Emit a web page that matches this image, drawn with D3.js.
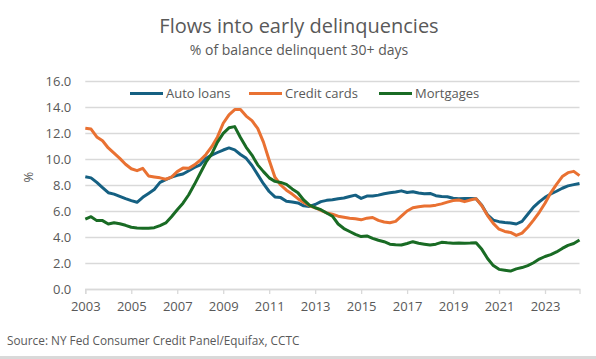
<!DOCTYPE html>
<html>
<head>
<meta charset="utf-8">
<script src="https://cdn.jsdelivr.net/npm/d3@7"></script>
<style>
  body { margin: 0; background: #fff; }
  svg { display: block; font-family: "Open Sans", sans-serif; }
</style>
</head>
<body>
<div id="chart"></div>
<script>
// quarterly, 2003Q1 .. 2024Q3
const autoLoans = [
  8.64, 8.55, 8.2, 7.8, 7.41, 7.3, 7.12, 6.95, 6.8, 6.67, 7.05, 7.35,
  7.65, 8.2, 8.42, 8.6, 8.75, 8.85, 9.1, 9.35, 9.55, 10.05, 10.3, 10.5,
  10.69, 10.85, 10.7, 10.35, 10.05, 9.5, 8.8, 8.1, 7.5, 7.08, 7.03, 6.75,
  6.7, 6.62, 6.4, 6.35, 6.5, 6.72, 6.82, 6.87, 6.95, 7.0, 7.12, 7.22,
  6.97, 7.15, 7.15, 7.22, 7.33, 7.4, 7.46, 7.55, 7.42, 7.48, 7.38, 7.32,
  7.35, 7.18, 7.12, 7.1, 6.98, 6.95, 6.97, 6.97, 6.95, 6.45, 5.7, 5.3,
  5.18, 5.12, 5.08, 5.0, 5.2, 5.75, 6.3, 6.7, 7.05, 7.31, 7.52, 7.75,
  7.93, 8.03, 8.12
];
const creditCards = [
  12.36, 12.3, 11.7, 11.4, 10.85, 10.45, 10.05, 9.6, 9.25, 9.1, 9.28, 8.7,
  8.62, 8.55, 8.44, 8.6, 9.03, 9.3, 9.28, 9.55, 9.9, 10.35, 10.95, 11.7,
  12.75, 13.4, 13.8, 13.8, 13.3, 12.95, 12.35, 11.3, 9.9, 8.6, 8.0, 7.6,
  7.3, 6.95, 6.65, 6.4, 6.25, 6.05, 5.85, 5.75, 5.6, 5.52, 5.45, 5.4,
  5.32, 5.45, 5.5, 5.28, 5.15, 5.1, 5.2, 5.6, 6.0, 6.25, 6.33, 6.38,
  6.38, 6.45, 6.55, 6.68, 6.8, 6.85, 6.72, 6.85, 6.95, 6.4, 5.65, 5.05,
  4.6, 4.43, 4.35, 4.12, 4.3, 4.75, 5.3, 5.9, 6.6, 7.4, 8.05, 8.65,
  8.95, 9.05, 8.72
];
const mortgages = [
  5.38, 5.56, 5.26, 5.26, 5.0, 5.1, 5.02, 4.9, 4.75, 4.7, 4.68, 4.67,
  4.72, 4.88, 5.08, 5.56, 6.1, 6.6, 7.25, 8.05, 8.9, 9.75, 10.4, 11.3,
  11.97, 12.4, 12.49, 11.65, 10.9, 10.3, 9.55, 9.03, 8.55, 8.28, 8.2, 8.05,
  7.7, 7.4, 6.85, 6.45, 6.25, 6.1, 5.85, 5.6, 5.0, 4.65, 4.42, 4.2,
  4.03, 4.08, 3.9, 3.75, 3.64, 3.45, 3.4, 3.38, 3.5, 3.64, 3.52, 3.45,
  3.38, 3.45, 3.59, 3.55, 3.52, 3.53, 3.51, 3.53, 3.56, 3.05, 2.35, 1.8,
  1.51, 1.45, 1.38, 1.55, 1.65, 1.8, 2.02, 2.3, 2.5, 2.65, 2.85, 3.12,
  3.36, 3.5, 3.77
];
const seriesNames = ["Auto loans", "Credit cards", "Mortgages"];
const yearTicks = [2003, 2005, 2007, 2009, 2011, 2013, 2015, 2017, 2019, 2021, 2023];
const yTicks = [0, 2, 4, 6, 8, 10, 12, 14, 16];

const quarters = autoLoans.map((_, i) => 2003 + i / 4);
const series = [
  { name: seriesNames[0], values: autoLoans, color: "#156082" },
  { name: seriesNames[1], values: creditCards, color: "#E97132" },
  { name: seriesNames[2], values: mortgages, color: "#196B24" }
];

const W = 596, H = 359;
const margin = { top: 81, right: 16.5, bottom: 70, left: 85.3 };
const width = W - margin.left - margin.right;
const height = H - margin.top - margin.bottom;
const textColor = "#595959";

const svg = d3.select("#chart").append("svg")
  .attr("width", W)
  .attr("height", H);

svg.append("text")
  .attr("x", 299).attr("y", 33)
  .attr("text-anchor", "middle")
  .attr("font-size", 20)
  .attr("fill", textColor)
  .text("Flows into early delinquencies");

svg.append("text")
  .attr("x", 299).attr("y", 55)
  .attr("text-anchor", "middle")
  .attr("font-size", 14)
  .attr("fill", textColor)
  .text("% of balance delinquent 30+ days");

const g = svg.append("g")
  .attr("transform", `translate(${margin.left},${margin.top})`);

const x = d3.scaleLinear()
  .domain([2003, d3.max(quarters)])
  .range([0, width]);

const y = d3.scaleLinear()
  .domain([0, 16])
  .range([height, 0]);

// gridlines
g.append("g")
  .call(d3.axisLeft(y).tickValues(yTicks).tickSize(-width).tickFormat(d3.format(".1f")))
  .call(a => a.select(".domain").remove())
  .call(a => a.selectAll(".tick line").attr("stroke", "#D9D9D9").attr("stroke-width", 1.3))
  .call(a => a.selectAll(".tick text")
    .attr("x", -14)
    .attr("fill", textColor)
    .attr("font-size", 13)
    .attr("font-family", "Open Sans, sans-serif"));

// x axis
g.append("g")
  .attr("transform", `translate(0,${height})`)
  .call(d3.axisBottom(x).tickValues(yearTicks).tickSize(5).tickFormat(d3.format("d")))
  .call(a => a.select(".domain").attr("stroke", "#D9D9D9").attr("stroke-width", 1.3))
  .call(a => a.selectAll(".tick line").attr("stroke", "#D9D9D9").attr("stroke-width", 1.3))
  .call(a => a.selectAll(".tick text")
    .attr("y", 13)
    .attr("fill", textColor)
    .attr("font-size", 13)
    .attr("font-family", "Open Sans, sans-serif"));

svg.append("text")
  .attr("transform", "translate(33,177) rotate(-90)")
  .attr("text-anchor", "middle")
  .attr("font-size", 13)
  .attr("fill", textColor)
  .text("%");

const line = d3.line()
  .x((d, i) => x(quarters[i]))
  .y(d => y(d));

g.selectAll(".series")
  .data(series)
  .join("path")
  .attr("class", "series")
  .attr("fill", "none")
  .attr("stroke", d => d.color)
  .attr("stroke-width", 3)
  .attr("stroke-linejoin", "round")
  .attr("d", d => line(d.values));

// legend
const legendX = [130, 249, 379];
const legend = svg.append("g");
series.forEach((s, i) => {
  legend.append("line")
    .attr("x1", legendX[i]).attr("x2", legendX[i] + 33)
    .attr("y1", 93.5).attr("y2", 93.5)
    .attr("stroke", s.color)
    .attr("stroke-width", 3);
  legend.append("text")
    .attr("x", legendX[i] + 36).attr("y", 98)
    .attr("font-size", 13)
    .attr("fill", textColor)
    .text(s.name);
});

svg.append("text")
  .attr("x", 7).attr("y", 345)
  .attr("font-size", 11.8)
  .attr("fill", textColor)
  .text("Source: NY Fed Consumer Credit Panel/Equifax, CCTC");

svg.append("rect")
  .attr("x", 0).attr("y", 356)
  .attr("width", W).attr("height", 3)
  .attr("fill", "#D9D9D9");
</script>
</body>
</html>
